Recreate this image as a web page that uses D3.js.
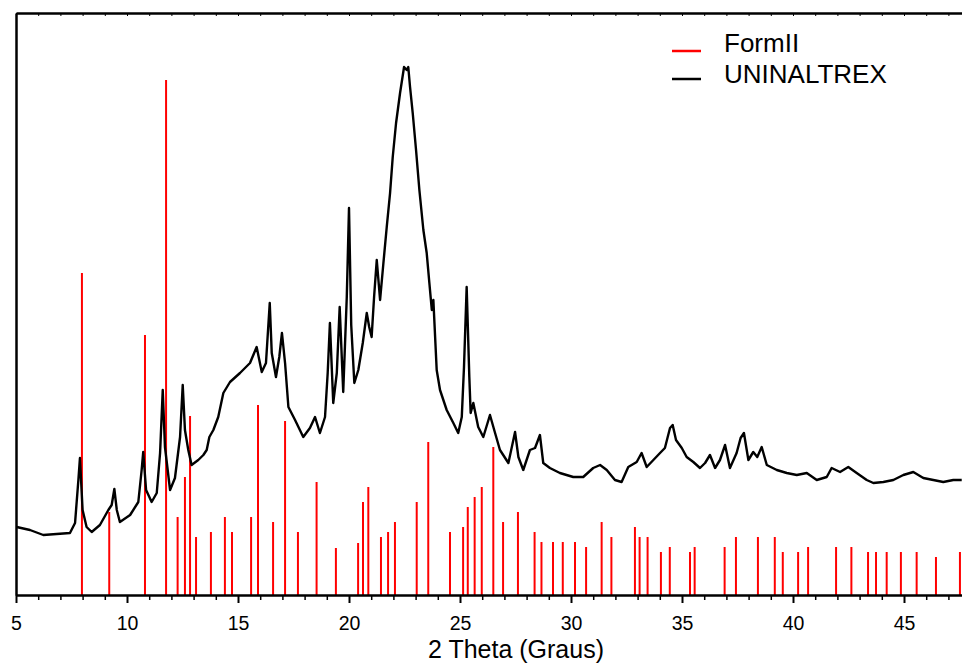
<!DOCTYPE html>
<html><head><meta charset="utf-8">
<script src="https://cdn.jsdelivr.net/npm/d3@7"></script>
<style>body{margin:0;background:#fff} svg{display:block} text{font-family:"Liberation Sans",Arial,sans-serif}</style>
</head><body><svg id="c" width="962" height="668"></svg>
<script>
const seriesNames = ["FormII", "UNINALTREX"];
const seriesColors = ["#ff0000", "#000000"];
const xTicks = [5, 10, 15, 20, 25, 30, 35, 40, 45];
const xTitle = "2 Theta (Graus)";

// FormII reference pattern (stick positions, 2θ) and intensities (a.u.)
const stickTheta = [7.97, 9.20, 10.81, 11.76, 12.28, 12.61, 12.84, 13.11, 13.78, 14.41, 14.73, 15.59, 15.90, 16.58, 17.12, 17.70, 18.54, 19.41, 20.41, 20.63, 20.87, 21.44, 21.76, 22.07, 23.05, 23.57, 24.55, 25.14, 25.35, 25.66, 25.98, 26.50, 26.94, 27.61, 28.36, 28.67, 29.19, 29.63, 30.18, 30.68, 31.38, 31.82, 32.88, 33.09, 33.45, 34.05, 34.45, 35.36, 35.57, 36.92, 37.43, 38.42, 39.18, 39.54, 40.23, 40.68, 41.94, 42.63, 43.38, 43.74, 44.22, 44.86, 45.57, 46.44, 47.52];
const stickIntensity = [322, 83, 260, 515, 78, 118, 179, 58, 63, 78, 63, 78, 190, 73, 174, 63, 113, 47, 52, 93, 108, 58, 63, 73, 93, 153, 63, 68, 88, 98, 108, 148, 73, 83, 63, 53, 53, 53, 53, 48, 73, 58, 68, 58, 58, 43, 48, 43, 48, 48, 58, 58, 58, 43, 43, 48, 48, 48, 43, 43, 43, 43, 43, 38, 43];

// UNINALTREX measured scan (2θ, intensity a.u.)
const scanTheta = [5.03, 5.63, 6.23, 6.83, 7.43, 7.66, 7.81, 7.88, 8.00, 8.18, 8.41, 8.78, 9.16, 9.31, 9.43, 9.54, 9.68, 10.14, 10.51, 10.66, 10.73, 10.86, 11.11, 11.34, 11.49, 11.61, 11.71, 11.94, 12.16, 12.39, 12.51, 12.61, 12.76, 12.91, 13.21, 13.44, 13.59, 13.71, 13.89, 14.11, 14.34, 14.64, 15.09, 15.54, 15.84, 16.07, 16.26, 16.43, 16.52, 16.71, 16.86, 16.98, 17.12, 17.27, 17.57, 17.94, 18.24, 18.47, 18.69, 18.92, 19.04, 19.14, 19.29, 19.45, 19.58, 19.74, 19.90, 20.00, 20.10, 20.24, 20.42, 20.62, 20.80, 20.91, 21.02, 21.13, 21.25, 21.40, 21.55, 21.70, 21.85, 21.97, 22.12, 22.30, 22.48, 22.60, 22.67, 22.75, 22.87, 23.02, 23.17, 23.35, 23.50, 23.62, 23.73, 23.80, 23.95, 24.10, 24.40, 24.70, 24.92, 25.08, 25.18, 25.30, 25.42, 25.48, 25.60, 25.82, 26.05, 26.35, 26.58, 26.80, 27.18, 27.48, 27.63, 27.85, 28.15, 28.38, 28.60, 28.75, 29.05, 29.50, 30.10, 30.55, 31.00, 31.31, 31.61, 31.98, 32.28, 32.58, 32.96, 33.18, 33.41, 33.71, 34.01, 34.23, 34.46, 34.58, 34.73, 34.99, 35.21, 35.51, 35.81, 36.04, 36.26, 36.49, 36.71, 36.94, 37.16, 37.46, 37.64, 37.79, 37.99, 38.21, 38.39, 38.59, 38.82, 39.27, 39.72, 40.17, 40.62, 41.07, 41.52, 41.74, 42.12, 42.49, 42.87, 43.32, 43.62, 44.07, 44.52, 44.97, 45.42, 45.87, 46.32, 46.77, 47.22, 47.60];
const scanIntensity = [68, 65, 60, 61, 62, 72, 115, 137, 85, 68, 63, 70, 85, 90, 106, 85, 73, 80, 93, 125, 143, 105, 93, 102, 142, 205, 148, 105, 117, 158, 210, 165, 145, 130, 135, 140, 145, 158, 165, 178, 202, 213, 222, 232, 248, 223, 232, 292, 242, 218, 238, 262, 232, 188, 175, 158, 167, 178, 162, 178, 222, 272, 192, 222, 288, 203, 298, 387, 270, 212, 225, 252, 282, 268, 258, 298, 335, 295, 332, 368, 402, 438, 472, 502, 528, 525, 528, 508, 482, 445, 405, 365, 342, 312, 285, 295, 225, 205, 185, 172, 162, 178, 228, 308, 218, 182, 192, 168, 158, 180, 162, 145, 132, 163, 138, 125, 145, 147, 160, 132, 127, 122, 118, 118, 127, 130, 125, 115, 113, 128, 133, 142, 128, 135, 142, 147, 167, 170, 155, 147, 138, 133, 127, 132, 140, 127, 135, 150, 127, 142, 157, 162, 135, 143, 138, 148, 130, 125, 122, 120, 122, 115, 118, 127, 123, 128, 122, 115, 112, 113, 115, 120, 123, 117, 115, 113, 115, 115];

const svg = d3.select("#c");
const mLeft = 16, mTop = 13, mBottom = 595;
const x = d3.scaleLinear().domain([5, 48]).range([mLeft, mLeft + 43 * 22.2]);
const y = d3.scaleLinear().domain([0, 582]).range([mBottom, mTop]);

svg.append("defs").append("clipPath").attr("id", "clip")
  .append("rect").attr("x", mLeft).attr("y", mTop).attr("width", 962 - mLeft).attr("height", mBottom - mTop);

const plot = svg.append("g").attr("clip-path", "url(#clip)");

// sticks
plot.append("g").selectAll("line").data(stickTheta).join("line")
  .attr("x1", d => x(d)).attr("x2", d => x(d))
  .attr("y1", y(0)).attr("y2", (d, i) => y(stickIntensity[i]))
  .attr("stroke", seriesColors[0]).attr("stroke-width", 2);

// scan
const pts = scanTheta.map((t, i) => [t, scanIntensity[i]]);
plot.append("path").datum(pts)
  .attr("d", d3.line().x(d => x(d[0])).y(d => y(d[1])))
  .attr("fill", "none").attr("stroke", seriesColors[1]).attr("stroke-width", 2.4).attr("stroke-linejoin", "round");

// axes
const minor = d3.range(5, 49, 1);
const xb = svg.append("g").attr("transform", `translate(0,${mBottom})`)
  .call(d3.axisBottom(x).tickValues(xTicks).tickFormat(d3.format("d")).tickSize(8).tickSizeOuter(0));
xb.select(".domain").attr("stroke-width", 2.5);
xb.selectAll(".tick line").attr("stroke-width", 2);
xb.selectAll(".tick text").attr("font-size", 19.5).attr("y", 35).attr("dy", 0).attr("fill", "#000")
  .attr("font-family", "'Liberation Sans', Arial, sans-serif");
svg.append("g").attr("transform", `translate(0,${mBottom})`)
  .call(d3.axisBottom(x).tickValues(minor.filter(v => !xTicks.includes(v))).tickSize(5).tickFormat(""))
  .call(g => g.select(".domain").remove())
  .selectAll(".tick line").attr("stroke-width", 1.5);

const xt = svg.append("g").attr("transform", `translate(0,${mTop})`)
  .call(d3.axisBottom(x).tickValues(minor).tickSize(3).tickFormat("").tickSizeOuter(0));
xt.select(".domain").attr("stroke-width", 2.5);
xt.selectAll(".tick line").attr("stroke-width", 1);

const yl = svg.append("g").attr("transform", `translate(${mLeft},0)`)
  .call(d3.axisLeft(y).tickValues([]).tickSizeOuter(0));
yl.select(".domain").attr("stroke-width", 2.5);

svg.append("text").attr("x", 516).attr("y", 658).attr("text-anchor", "middle")
  .attr("font-size", 25).text(xTitle);

// legend
const lg = svg.append("g");
seriesNames.forEach((n, i) => {
  const yy = 52 + i * 31;
  lg.append("line").attr("x1", 672).attr("x2", 701).attr("y1", yy - 1 - i * 3).attr("y2", yy - 1 - i * 3)
    .attr("stroke", seriesColors[i]).attr("stroke-width", 2.5);
  lg.append("text").attr("x", 724).attr("y", yy).attr("font-size", 26).text(n);
});
</script></body></html>
